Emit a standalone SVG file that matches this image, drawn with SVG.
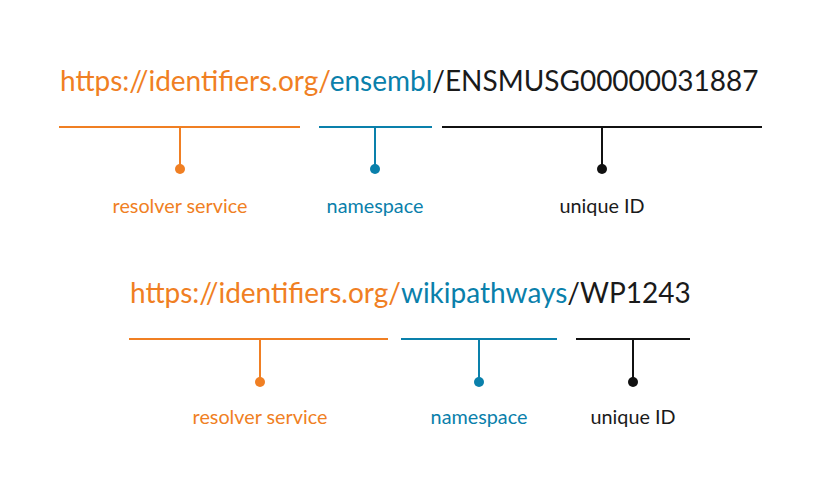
<svg xmlns="http://www.w3.org/2000/svg" width="818" height="492" viewBox="0 0 818 492">
<style>
text{font-family:Lato,"Open Sans",sans-serif}
.url{font-size:28px}
.lbl{font-size:19.8px;text-anchor:middle}
.o{fill:#F07F23}.b{fill:#0A80AB}.k{fill:#1a1a1a}
.lo{stroke:#F07F23}.lb{stroke:#0A80AB}.lk{stroke:#111}
line{stroke-width:2;fill:none}
</style>
<rect width="818" height="492" fill="#fff"/>
<g id="url1"><text class="url" x="60" y="91"><tspan class="o">https://identifiers.org/</tspan><tspan class="b">ensembl</tspan><tspan class="k">/ENSMUSG00000031887</tspan></text></g>
<g id="url2"><text class="url" x="130" y="303"><tspan class="o">https://identifiers.org/</tspan><tspan class="b">wikipathways</tspan><tspan class="k">/WP1243</tspan></text></g>
<g id="connectors">
<line class="lo" x1="59" y1="127" x2="300" y2="127"/><line class="lo" x1="180" y1="127" x2="180" y2="169"/><circle cx="180" cy="169" r="5" fill="#F07F23"/>
<line class="lb" x1="319" y1="127" x2="432" y2="127"/><line class="lb" x1="375" y1="127" x2="375" y2="169"/><circle cx="375" cy="169" r="5" fill="#0A80AB"/>
<line class="lk" x1="442" y1="127" x2="762" y2="127"/><line class="lk" x1="602" y1="127" x2="602" y2="169"/><circle cx="602" cy="169" r="5" fill="#111"/>
<line class="lo" x1="129" y1="339" x2="388" y2="339"/><line class="lo" x1="260" y1="339" x2="260" y2="382"/><circle cx="260" cy="382" r="5" fill="#F07F23"/>
<line class="lb" x1="401" y1="339" x2="557" y2="339"/><line class="lb" x1="479" y1="339" x2="479" y2="382"/><circle cx="479" cy="382" r="5" fill="#0A80AB"/>
<line class="lk" x1="576" y1="339" x2="690" y2="339"/><line class="lk" x1="633" y1="339" x2="633" y2="382"/><circle cx="633" cy="382" r="5" fill="#111"/>
</g>
<g id="label-resolver1"><text class="lbl o" x="180" y="213">resolver service</text></g>
<g id="label-namespace1"><text class="lbl b" x="375" y="213">namespace</text></g>
<g id="label-id1"><text class="lbl k" x="602" y="213">unique ID</text></g>
<g id="label-resolver2"><text class="lbl o" x="260" y="424">resolver service</text></g>
<g id="label-namespace2"><text class="lbl b" x="479" y="424">namespace</text></g>
<g id="label-id2"><text class="lbl k" x="633" y="424">unique ID</text></g>
</svg>
